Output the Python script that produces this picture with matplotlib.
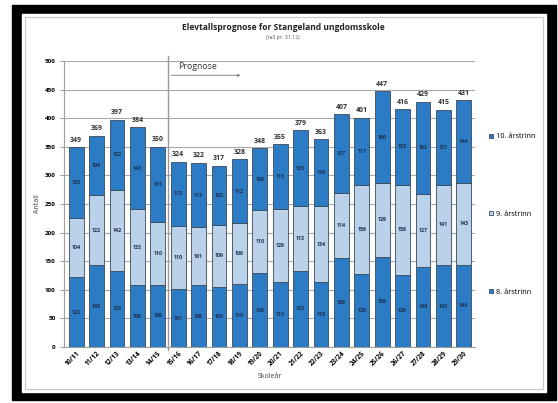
import matplotlib.pyplot as plt
from matplotlib.patches import Rectangle
import numpy as np

plt.rcParams['font.family'] = ['Open Sans', 'DejaVu Sans']

years = ['10/11', '11/12', '12/13', '13/14', '14/15', '15/16', '16/17', '17/18',
         '18/19', '19/20', '20/21', '21/22', '22/23', '23/24', '24/25', '25/26',
         '26/27', '27/28', '28/29', '29/30']
trinn8 = [122, 143, 133, 108, 109, 101, 108, 105, 110, 129, 113, 133, 113, 156,
          128, 158, 126, 140, 143, 144]
trinn9 = [104, 122, 142, 133, 110, 110, 101, 109, 106, 110, 129, 113, 134, 114,
          156, 129, 158, 127, 141, 143]
trinn10 = [123, 104, 122, 143, 131, 113, 113, 103, 112, 109, 113, 133, 116, 137,
           117, 160, 132, 162, 131, 144]

dark = '#2b7cc4'
light = '#bad1ea'
edge = '#3c4a5a'

W, H = 558, 403
fig = plt.figure(figsize=(W / 100, H / 100), dpi=100)

# screenshot frame
fig.patches.append(Rectangle((12 / W, 1 - 400 / H), 544 / W, 395 / H,
                             transform=fig.transFigure, color='black', zorder=-10))
fig.patches.append(Rectangle((22 / W, 1 - 392 / H), 524 / W, 378 / H,
                             transform=fig.transFigure, color='white', zorder=-9))
fig.patches.append(Rectangle((25 / W, 1 - 389 / H), 518 / W, 372 / H,
                             transform=fig.transFigure, fill=False, ec='#c8c8c8',
                             lw=0.8, zorder=-8))

ax = fig.add_axes([64 / W, 1 - 347 / H, 411 / W, 286 / H])
ax.patch.set_alpha(0)
x = np.arange(len(years))
t8 = np.array(trinn8)
t9 = np.array(trinn9)
t10 = np.array(trinn10)
tot = t8 + t9 + t10

bw = 0.73
b8 = ax.bar(x, t8, bw, color=dark, edgecolor=edge, lw=0.6, label='8. årstrinn', zorder=3)
b9 = ax.bar(x, t9, bw, bottom=t8, color=light, edgecolor=edge, lw=0.6,
            label='9. årstrinn', zorder=3)
b10 = ax.bar(x, t10, bw, bottom=t8 + t9, color=dark, edgecolor=edge, lw=0.6,
             label='10. årstrinn', zorder=3)

lab = dict(fontsize=3.8, fontweight='bold', color='#1b2d4f', ha='center',
           va='center', zorder=4)
for i in range(len(years)):
    ax.text(x[i], t8[i] / 2, str(t8[i]), **lab)
    ax.text(x[i], t8[i] + t9[i] / 2, str(t9[i]), **lab)
    ax.text(x[i], t8[i] + t9[i] + t10[i] / 2, str(t10[i]), **lab)
    ax.text(x[i], tot[i] + 6, str(tot[i]), fontsize=5, fontweight='bold',
            color='#333333', ha='center', va='bottom', zorder=4)

ax.set_ylim(0, 500)
ax.set_xlim(-0.6, len(years) - 0.45)
ax.set_yticks(range(0, 501, 50))
ax.yaxis.grid(True, color='#a8a8a8', lw=0.8, zorder=0)
ax.set_axisbelow(True)
for s in ['top', 'right']:
    ax.spines[s].set_visible(False)
for s in ['left', 'bottom']:
    ax.spines[s].set_color('#a0a0a0')
    ax.spines[s].set_linewidth(0.8)
ax.tick_params(axis='y', labelsize=4.5, length=3, color='#a0a0a0', pad=3)
ax.tick_params(axis='x', length=0, pad=2)
for t in ax.get_yticklabels():
    t.set_fontweight('bold')
ax.set_xticks(x)
ax.set_xticklabels(years, rotation=45, ha='right', rotation_mode='anchor',
                   fontsize=4.8, fontweight='bold')
ax.set_xlabel('Skoleår', fontsize=5, color='#444444', labelpad=4)
ax.set_ylabel('Antall', fontsize=5, color='#444444', labelpad=3)

# prognose marker
ax.plot([4.5, 4.5], [-6, 508], color='#9a9a9a', lw=1.0, clip_on=False, zorder=5)
ax.annotate('', xy=(8.2, 475), xytext=(4.5, 475),
            arrowprops=dict(arrowstyle='-|>', color='#8a8a8a', lw=0.7,
                            mutation_scale=4), zorder=5)
ax.text(5.0, 482, 'Prognose', fontsize=6.3, color='#333333', va='bottom')

fig.text(283 / W, 1 - 28 / H, 'Elevtallsprognose for Stangeland ungdomsskole',
         fontsize=6.1, fontweight='bold', ha='center', va='center', color='#222222')
fig.text(283 / W, 1 - 38 / H, '(tall pr. 31.12)', fontsize=3.8, ha='center',
         va='center', color='#555555')

handles = [b10, b9, b8]
for h, yy in zip(handles, [137, 214, 292]):
    fig.legend([h], [h.get_label()], loc='center left',
               bbox_to_anchor=(489 / W, 1 - yy / H), frameon=False, fontsize=5.3,
               handlelength=0.6, handleheight=0.6, handletextpad=0.3,
               borderpad=0, borderaxespad=0)

fig.savefig('out.png', dpi=100)
